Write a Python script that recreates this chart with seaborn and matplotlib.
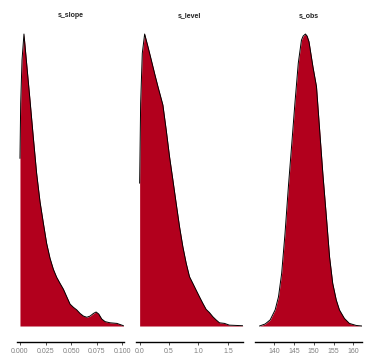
import numpy as np
import pandas as pd
import matplotlib
matplotlib.use("Agg")
import matplotlib.pyplot as plt
import seaborn as sns

sns.set_theme(style="white")
plt.rcParams["font.family"] = ["Liberation Sans", "DejaVu Sans"]

# density outlines (height relative to each panel's peak)
slope_x = [0.0, 0.0007, 0.002, 0.0039, 0.0065, 0.0098, 0.013, 0.0163, 0.0196,
           0.0229, 0.0261, 0.0294, 0.0327, 0.0359, 0.0392, 0.0425, 0.0458,
           0.049, 0.0523, 0.0556, 0.0588, 0.0621, 0.0654, 0.0686, 0.0719,
           0.0745, 0.0771, 0.080, 0.0833, 0.0882, 0.0948, 0.1013]
slope_d = [0.574, 0.763, 0.911, 1.0, 0.90, 0.774, 0.648, 0.523, 0.426,
           0.352, 0.283, 0.232, 0.194, 0.167, 0.146, 0.126, 0.100,
           0.075, 0.064, 0.055, 0.043, 0.034, 0.030, 0.034, 0.043,
           0.048, 0.041, 0.024, 0.015, 0.011, 0.009, 0.001]

level_x = [0.0, 0.017, 0.045, 0.085, 0.141, 0.198, 0.254, 0.311, 0.395,
           0.452, 0.508, 0.565, 0.621, 0.678, 0.734, 0.791, 0.847, 0.904,
           0.960, 1.017, 1.073, 1.130, 1.186, 1.243, 1.299, 1.356, 1.441,
           1.525, 1.751]
level_d = [0.489, 0.763, 0.934, 1.0, 0.957, 0.911, 0.865, 0.820, 0.757,
           0.671, 0.580, 0.500, 0.420, 0.340, 0.272, 0.215, 0.169, 0.146,
           0.123, 0.100, 0.078, 0.057, 0.046, 0.032, 0.021, 0.011, 0.009,
           0.003, 0.001]

obs_x = [136.3, 137.75, 139.0, 140.25, 141.1, 141.9, 142.75, 143.6, 144.4,
         145.25, 146.1, 146.9, 147.33, 147.9, 148.33, 148.8, 149.8, 150.7,
         151.5, 152.3, 153.2, 154.0, 154.8, 155.7, 156.5, 157.75, 159.0,
         160.7, 162.2]
obs_d = [0.0, 0.007, 0.021, 0.055, 0.100, 0.180, 0.317, 0.477, 0.614,
         0.763, 0.900, 0.979, 0.993, 1.0, 0.993, 0.974, 0.888, 0.820,
         0.671, 0.523, 0.374, 0.237, 0.146, 0.089, 0.055, 0.026, 0.009,
         0.002, 0.0]

params = ["s_slope", "s_level", "s_obs"]
ticks = {
    "s_slope": [0.0, 0.025, 0.05, 0.075, 0.1],
    "s_level": [0.0, 0.5, 1.0, 1.5],
    "s_obs": [140, 145, 150, 155, 160],
}
ticklabels = {
    "s_slope": ["0.000", "0.025", "0.050", "0.075", "0.100"],
    "s_level": ["0.0", "0.5", "1.0", "1.5"],
    "s_obs": ["140", "145", "150", "155", "160"],
}
xlims = {
    "s_slope": (-0.0029, 0.1015),
    "s_level": (-0.059, 1.754),
    "s_obs": (135.25, 162.2),
}

df = pd.concat([
    pd.DataFrame({"param": "s_slope", "x": slope_x, "density": slope_d}),
    pd.DataFrame({"param": "s_level", "x": level_x, "density": level_d}),
    pd.DataFrame({"param": "s_obs", "x": obs_x, "density": obs_d}),
])

fill = "#B2001D"

fig, axes = plt.subplots(1, 3, figsize=(3.65, 3.64), dpi=100)
fig.subplots_adjust(left=0.0466, right=0.9918, bottom=0.0604, top=0.9505,
                    wspace=0.117)

for ax, p in zip(axes, params):
    d = df[df["param"] == p]
    ax.fill_between(d["x"], 0, d["density"], color=fill, linewidth=0)
    sns.lineplot(data=d, x="x", y="density", ax=ax, color="black",
                 linewidth=0.7, sort=False)
    ax.set_xlim(*xlims[p])
    ax.set_ylim(-0.0548, 1.0548)
    ax.set_xticks(ticks[p])
    ax.set_xticklabels(ticklabels[p])
    ax.set_yticks([])
    ax.set_xlabel("")
    ax.set_ylabel("")
    for s in ["top", "right", "left"]:
        ax.spines[s].set_visible(False)
    ax.spines["bottom"].set_color("black")
    ax.spines["bottom"].set_linewidth(1.0)
    ax.tick_params(axis="x", bottom=True, length=2, width=0.6, pad=2.5,
                   labelsize=5, labelcolor="#7f7f7f", color="#333333")
    ax.set_title(p, fontsize=5, fontweight="bold", pad=1.0, color="#222222")

fig.savefig("out.png", dpi=100)
